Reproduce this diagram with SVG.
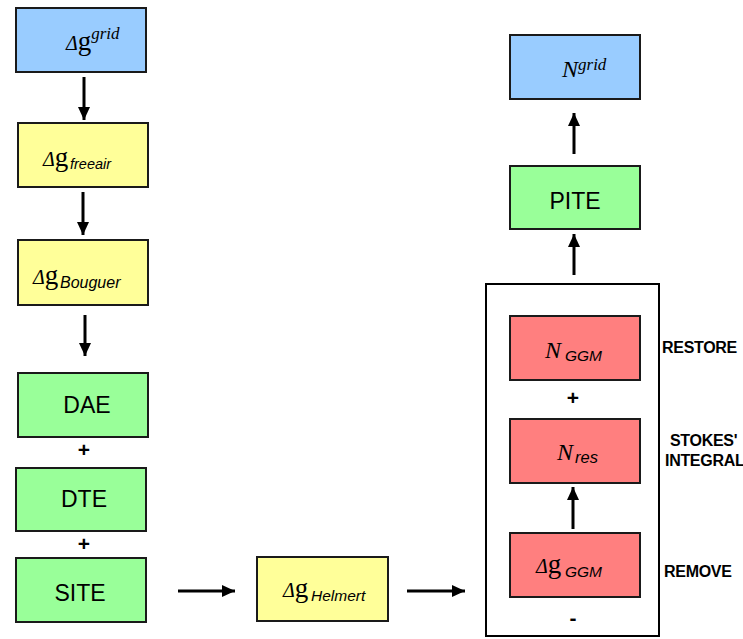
<svg xmlns="http://www.w3.org/2000/svg" width="743" height="639" viewBox="0 0 743 639">
<style>
.box{stroke:#1a1a1a;stroke-width:2}
.blue{fill:#99CCFF}.yellow{fill:#FFFF99}.green{fill:#99FF99}.red{fill:#FF7F7F}
.sym{font-family:"Liberation Serif",serif;font-style:italic;fill:#000}
.g{font-style:normal;font-size:27px}
.sub{font-family:"Liberation Sans",Arial,sans-serif;font-style:italic;fill:#000}
.lbl{font-family:"Liberation Sans",Arial,sans-serif;font-size:23px;fill:#000;text-anchor:middle}
.side{font-family:"Liberation Sans",Arial,sans-serif;font-size:16px;font-weight:bold;fill:#000;letter-spacing:-0.3px}
.op{font-family:"Liberation Sans",Arial,sans-serif;font-size:21px;font-weight:bold;fill:#000;text-anchor:middle}
.conn{stroke:#000;stroke-width:3;fill:none;marker-end:url(#ah)}
</style>
<defs>
<marker id="ah" markerUnits="userSpaceOnUse" markerWidth="14" markerHeight="14" viewBox="0 0 14 14" refX="13" refY="7" orient="auto">
<path d="M0,1 L13,7 L0,13 Z" fill="#000"/>
</marker>
</defs>
<rect width="743" height="639" fill="#fff"/>

<g id="dg-grid"><rect class="box blue" x="16" y="8" width="130" height="64"/>
<text class="sym" x="66" y="50" font-size="20">Δ<tspan class="g">g</tspan><tspan font-size="17" dy="-11">grid</tspan></text></g>

<g id="dg-freeair"><rect class="box yellow" x="18" y="123" width="130" height="64"/>
<text class="sym" x="43" y="166" font-size="20">Δ<tspan class="g">g</tspan></text><text class="sub" x="70" y="169" font-size="14.5">freeair</text></g>

<g id="dg-bouguer"><rect class="box yellow" x="18" y="240" width="130" height="65"/>
<text class="sym" x="33" y="284" font-size="20">Δ<tspan class="g">g</tspan></text><text class="sub" x="60" y="288" font-size="16">Bouguer</text></g>

<g id="dae"><rect class="box green" x="18" y="373" width="130" height="64"/>
<text class="lbl" x="87" y="413">DAE</text></g>
<text class="op" x="84" y="457">+</text>

<g id="dte"><rect class="box green" x="16" y="468" width="130" height="63"/>
<text class="lbl" x="84" y="507">DTE</text></g>
<text class="op" x="84" y="551">+</text>

<g id="site"><rect class="box green" x="16" y="558" width="130" height="64"/>
<text class="lbl" x="80" y="601">SITE</text></g>

<g id="dg-helmert"><rect class="box yellow" x="257" y="557" width="131" height="64"/>
<text class="sym" x="283" y="597" font-size="20">Δ<tspan class="g">g</tspan></text><text class="sub" x="311" y="601" font-size="15.5">Helmert</text></g>

<g id="rcr-frame"><rect x="486" y="284" width="173" height="352" fill="none" stroke="#000" stroke-width="2"/></g>

<g id="n-ggm"><rect class="box red" x="510" y="316" width="130" height="64"/>
<text class="sym" x="545" y="358" font-size="24">N</text><text class="sub" x="565" y="361" font-size="15.5">GGM</text></g>
<text class="side" x="662" y="353">RESTORE</text>
<text class="op" x="573" y="405">+</text>

<g id="n-res"><rect class="box red" x="510" y="419" width="130" height="64"/>
<text class="sym" x="557" y="460" font-size="24">N</text><text class="sub" x="575" y="463" font-size="16.5">res</text></g>
<text class="side" x="670" y="446">STOKES'</text>
<text class="side" x="665" y="466">INTEGRAL</text>

<g id="dg-ggm"><rect class="box red" x="510" y="533" width="130" height="64"/>
<text class="sym" x="536" y="573" font-size="20">Δ<tspan class="g">g</tspan></text><text class="sub" x="565" y="577" font-size="15.5">GGM</text></g>
<text class="side" x="664" y="577">REMOVE</text>
<text class="op" x="573" y="625">-</text>

<g id="pite"><rect class="box green" x="510" y="166" width="130" height="63"/>
<text class="lbl" x="575" y="209">PITE</text></g>

<g id="n-grid"><rect class="box blue" x="510" y="35" width="130" height="64"/>
<text class="sym" x="562" y="77" font-size="24">N<tspan font-size="17" dy="-7">grid</tspan></text></g>

<g id="connectors">
<line class="conn" x1="84" y1="77" x2="84" y2="120"/>
<line class="conn" x1="83" y1="192" x2="83" y2="235"/>
<line class="conn" x1="85" y1="315" x2="85" y2="356"/>
<line class="conn" x1="178" y1="591" x2="235" y2="591"/>
<line class="conn" x1="407" y1="591" x2="465" y2="591"/>
<line class="conn" x1="573" y1="529" x2="573" y2="487"/>
<line class="conn" x1="574" y1="275" x2="574" y2="234"/>
<line class="conn" x1="574" y1="154" x2="574" y2="113"/>
</g>
</svg>
